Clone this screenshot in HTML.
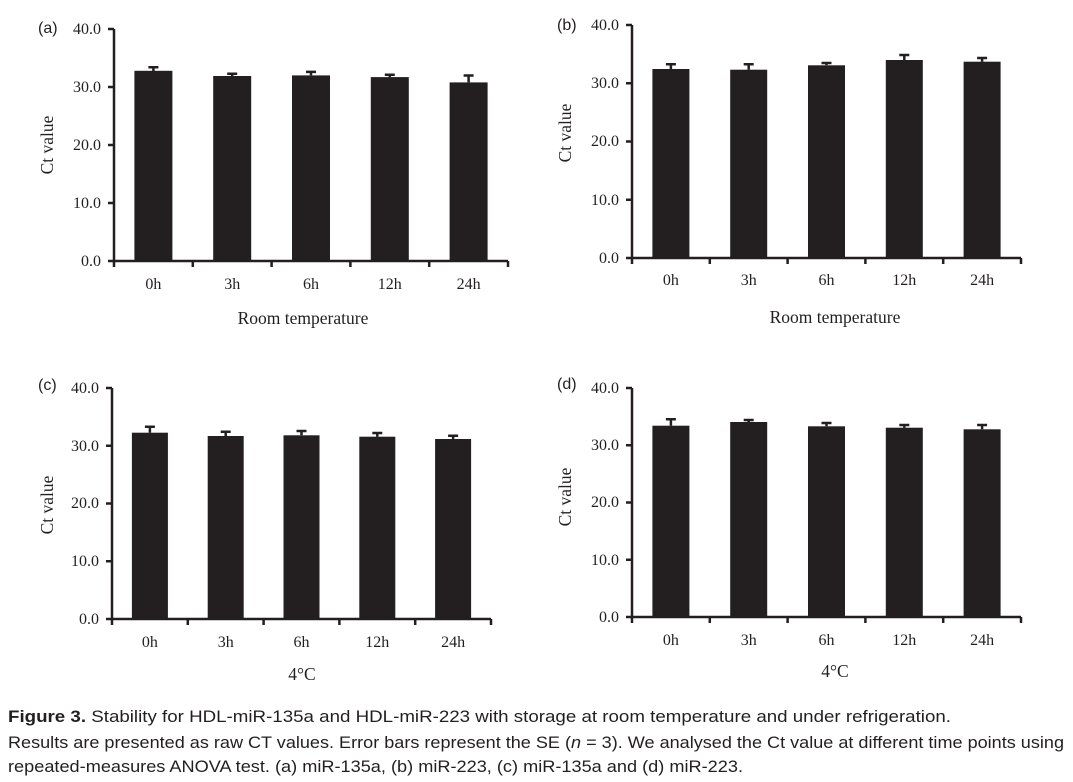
<!DOCTYPE html>
<html><head><meta charset="utf-8"><style>
html,body{margin:0;padding:0;background:#fff;}
svg{display:block}
.t{font-family:"Liberation Serif",serif;font-size:16px;fill:#231f20}
.a{font-family:"Liberation Serif",serif;font-size:17.5px;fill:#231f20}
.p{font-family:"Liberation Sans",sans-serif;font-size:16px;fill:#231f20}
.c{font-family:"Liberation Sans",sans-serif;font-size:16.5px;fill:#231f20}
</style></head><body>
<svg width="1073" height="782" viewBox="0 0 1073 782" xmlns="http://www.w3.org/2000/svg">
<g fill="#231f20" stroke="none">
<rect x="134.4" y="70.8" width="38" height="190.2"/><rect x="213.2" y="76" width="38" height="185"/><rect x="292" y="75.4" width="38" height="185.6"/><rect x="370.8" y="77.1" width="38" height="183.9"/><rect x="449.6" y="82.4" width="38" height="178.6"/>
<rect x="652.4" y="69" width="37" height="189"/><rect x="730.2" y="69.7" width="37" height="188.3"/><rect x="808" y="65.3" width="37" height="192.7"/><rect x="885.8" y="60" width="37" height="198"/><rect x="963.6" y="61.7" width="37" height="196.3"/>
<rect x="131.9" y="432.7" width="36" height="186.3"/><rect x="207.7" y="436" width="36" height="183"/><rect x="283.5" y="435.3" width="36" height="183.7"/><rect x="359.3" y="436.7" width="36" height="182.3"/><rect x="435.1" y="439" width="36" height="180"/>
<rect x="652.4" y="425.7" width="37" height="191.3"/><rect x="730.2" y="422" width="37" height="195"/><rect x="808" y="426.3" width="37" height="190.7"/><rect x="885.8" y="427.7" width="37" height="189.3"/><rect x="963.6" y="429.3" width="37" height="187.7"/>
</g>
<g stroke="#231f20" stroke-width="2.5" fill="none">
<path d="M153.4 71V67.3M148.4 67.3H158.4M232.2 76V73.7M227.2 73.7H237.2M311 75.4V71.9M306 71.9H316M389.8 77.1V74.8M384.8 74.8H394.8M468.6 82.4V75.5M463.6 75.5H473.6"/>
<path d="M670.9 69V64.3M665.9 64.3H675.9M748.7 69.7V64.3M743.7 64.3H753.7M826.5 65.3V63M821.5 63H831.5M904.3 60V55M899.3 55H909.3M982.1 61.7V58M977.1 58H987.1"/>
<path d="M149.9 432.7V426.7M144.9 426.7H154.9M225.7 436V431.7M220.7 431.7H230.7M301.5 435.3V431M296.5 431H306.5M377.3 436.7V433M372.3 433H382.3M453.1 439V435.7M448.1 435.7H458.1"/>
<path d="M670.9 425.7V419.3M665.9 419.3H675.9M748.7 422V420M743.7 420H753.7M826.5 426.3V423M821.5 423H831.5M904.3 427.7V425M899.3 425H909.3M982.1 429.3V425M977.1 425H987.1"/>
<path d="M114 29V261H508"/>
<path d="M108 29H114M108 87H114M108 145H114M108 203H114M108 261H114"/>
<path d="M114 261V267M192.8 261V267M271.6 261V267M350.4 261V267M429.2 261V267M508 261V267"/>
<path d="M632 25V258H1021"/>
<path d="M626 25H632M626 83.25H632M626 141.5H632M626 199.75H632M626 258H632"/>
<path d="M632 258V264M709.8 258V264M787.6 258V264M865.4 258V264M943.2 258V264M1021 258V264"/>
<path d="M112 388V619H491"/>
<path d="M106 388H112M106 445.75H112M106 503.5H112M106 561.25H112M106 619H112"/>
<path d="M112 619V625M187.8 619V625M263.6 619V625M339.4 619V625M415.2 619V625M491 619V625"/>
<path d="M632 388V617H1021"/>
<path d="M626 388H632M626 445.25H632M626 502.5H632M626 559.75H632M626 617H632"/>
<path d="M632 617V623M709.8 617V623M787.6 617V623M865.4 617V623M943.2 617V623M1021 617V623"/>
</g>
<g class="t" text-anchor="end">
<text x="101" y="34">40.0</text><text x="101" y="92">30.0</text><text x="101" y="150">20.0</text><text x="101" y="208">10.0</text><text x="101" y="266">0.0</text>
<text x="619" y="30">40.0</text><text x="619" y="88">30.0</text><text x="619" y="146">20.0</text><text x="619" y="205">10.0</text><text x="619" y="263">0.0</text>
<text x="99" y="393">40.0</text><text x="99" y="451">30.0</text><text x="99" y="508">20.0</text><text x="99" y="566">10.0</text><text x="99" y="624">0.0</text>
<text x="619" y="393">40.0</text><text x="619" y="450">30.0</text><text x="619" y="507">20.0</text><text x="619" y="565">10.0</text><text x="619" y="622">0.0</text>
</g>
<g class="t" text-anchor="middle">
<text x="153.4" y="289">0h</text><text x="232.2" y="289">3h</text><text x="311" y="289">6h</text><text x="389.8" y="289">12h</text><text x="468.6" y="289">24h</text>
<text x="670.9" y="285">0h</text><text x="748.7" y="285">3h</text><text x="826.5" y="285">6h</text><text x="904.3" y="285">12h</text><text x="982.1" y="285">24h</text>
<text x="149.9" y="647">0h</text><text x="225.7" y="647">3h</text><text x="301.5" y="647">6h</text><text x="377.3" y="647">12h</text><text x="453.1" y="647">24h</text>
<text x="670.9" y="645">0h</text><text x="748.7" y="645">3h</text><text x="826.5" y="645">6h</text><text x="904.3" y="645">12h</text><text x="982.1" y="645">24h</text>
</g>
<g class="a" text-anchor="middle">
<text x="303" y="324">Room temperature</text>
<text x="835" y="323">Room temperature</text>
<text x="302" y="680">4°C</text>
<text x="835" y="677">4°C</text>
<text transform="translate(53,145) rotate(-90)">Ct value</text>
<text transform="translate(571,133) rotate(-90)">Ct value</text>
<text transform="translate(53,505) rotate(-90)">Ct value</text>
<text transform="translate(571,497) rotate(-90)">Ct value</text>
</g>
<g class="p">
<text x="38" y="33">(a)</text><text x="557" y="30">(b)</text><text x="38" y="390">(c)</text><text x="557" y="389">(d)</text>
</g>
<g class="c">
<text x="8" y="722" textLength="943" lengthAdjust="spacingAndGlyphs"><tspan font-weight="bold">Figure 3.</tspan> Stability for HDL-miR-135a and HDL-miR-223 with storage at room temperature and under refrigeration.</text>
<text x="8" y="748" textLength="1056" lengthAdjust="spacingAndGlyphs">Results are presented as raw CT values. Error bars represent the SE (<tspan font-style="italic">n</tspan> = 3). We analysed the Ct value at different time points using</text>
<text x="8" y="772" textLength="735" lengthAdjust="spacingAndGlyphs">repeated-measures ANOVA test. (a) miR-135a, (b) miR-223, (c) miR-135a and (d) miR-223.</text>
</g>
</svg>
</body></html>
